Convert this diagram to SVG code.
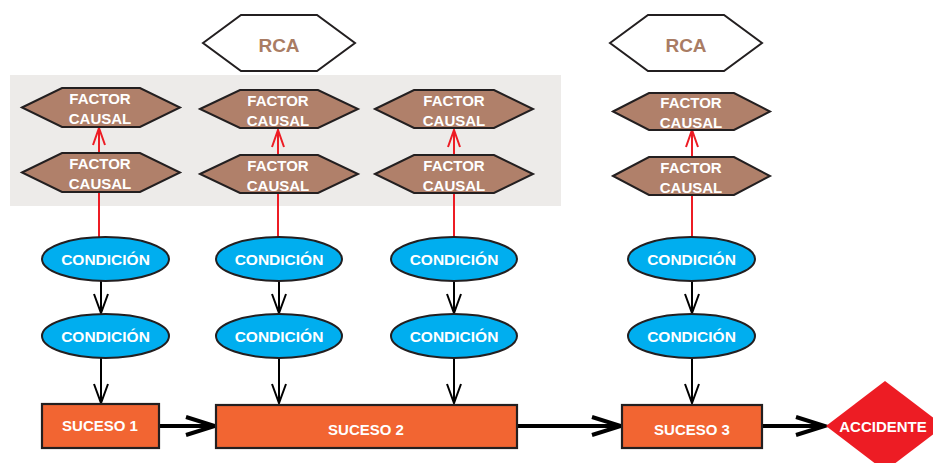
<svg xmlns="http://www.w3.org/2000/svg" width="933" height="463" viewBox="0 0 933 463">
<style>
.hex{fill:#b0806a;stroke:#231f20;stroke-width:2;stroke-linejoin:miter}
.rca{fill:#fff;stroke:#231f20;stroke-width:2}
.ell{fill:#00aeef;stroke:#231f20;stroke-width:2}
.box{fill:#f26532;stroke:#231f20;stroke-width:2.2}
.t{font-family:"Liberation Sans",Arial,sans-serif;font-weight:bold;fill:#fff;text-anchor:middle}
.tf{font-size:15px}
.tc{font-size:15.5px}
.ts{font-size:15px}
.tr{font-size:19px;fill:#a97c64}
.red{stroke:#ed1c24;stroke-width:2;fill:none}
.blk{stroke:#000;stroke-width:2;fill:none}
.thick{stroke:#000;stroke-width:4;fill:none}
</style>
<defs>
<marker id="mRed" markerUnits="userSpaceOnUse" markerWidth="22" markerHeight="16" viewBox="0 0 22 16" refX="19" refY="8" orient="auto">
<path d="M2,2 L19,8 L2,14" fill="none" stroke="#ed1c24" stroke-width="2"/>
</marker>
<marker id="mBlk" markerUnits="userSpaceOnUse" markerWidth="24" markerHeight="18" viewBox="0 0 24 18" refX="21" refY="9" orient="auto">
<path d="M2,2 L21,9 L2,16" fill="none" stroke="#000" stroke-width="2"/>
</marker>
<marker id="mThick" markerUnits="userSpaceOnUse" markerWidth="36" markerHeight="26" viewBox="0 0 36 26" refX="32" refY="13" orient="auto">
<path d="M3,4 L32,13 L3,22" fill="none" stroke="#000" stroke-width="4"/>
</marker>
</defs>

<rect id="panel" x="10" y="75" width="551" height="131" fill="#edebe9"/>

<g id="connectors">
<line class="red" x1="99" y1="237" x2="99" y2="128" marker-end="url(#mRed)"/>
<line class="red" x1="278" y1="237" x2="278" y2="130" marker-end="url(#mRed)"/>
<line class="red" x1="454" y1="237" x2="454" y2="130" marker-end="url(#mRed)"/>
<line class="red" x1="692" y1="237" x2="692" y2="130" marker-end="url(#mRed)"/>
<line class="blk" x1="101" y1="281" x2="101" y2="313" marker-end="url(#mBlk)"/>
<line class="blk" x1="279" y1="281" x2="279" y2="313" marker-end="url(#mBlk)"/>
<line class="blk" x1="454" y1="281" x2="454" y2="313" marker-end="url(#mBlk)"/>
<line class="blk" x1="692" y1="281" x2="692" y2="313" marker-end="url(#mBlk)"/>
<line class="blk" x1="101" y1="358" x2="101" y2="403" marker-end="url(#mBlk)"/>
<line class="blk" x1="279" y1="358" x2="279" y2="403" marker-end="url(#mBlk)"/>
<line class="blk" x1="454" y1="358" x2="454" y2="403" marker-end="url(#mBlk)"/>
<line class="blk" x1="692" y1="358" x2="692" y2="403" marker-end="url(#mBlk)"/>
<line class="thick" x1="159" y1="426" x2="215" y2="426" marker-end="url(#mThick)"/>
<line class="thick" x1="517" y1="426" x2="621" y2="426" marker-end="url(#mThick)"/>
<line class="thick" x1="762" y1="426" x2="825" y2="426" marker-end="url(#mThick)"/>
</g>

<g id="rca1"><polygon class="rca" points="203,43 241,15 317,15 355,43 317,71 241,71"/><text class="t tr" x="279" y="52">RCA</text></g>
<g id="rca2"><polygon class="rca" points="610,43 648,15 724,15 762,43 724,71 648,71"/><text class="t tr" x="686" y="52">RCA</text></g>

<g id="fc1a"><polygon class="hex" points="22,107.5 62,88 140,88 180,107.5 140,127 62,127"/><text class="t tf" x="100" y="104">FACTOR</text><text class="t tf" x="100" y="124">CAUSAL</text></g>
<g id="fc1b"><polygon class="hex" points="22,172.5 62,153 140,153 180,172.5 140,192 62,192"/><text class="t tf" x="100" y="169">FACTOR</text><text class="t tf" x="100" y="189">CAUSAL</text></g>
<g id="fc2a"><polygon class="hex" points="200,109 240,90 318,90 358,109 318,128 240,128"/><text class="t tf" x="278" y="106">FACTOR</text><text class="t tf" x="278" y="126">CAUSAL</text></g>
<g id="fc2b"><polygon class="hex" points="200,174 240,155 318,155 358,174 318,193 240,193"/><text class="t tf" x="278" y="171">FACTOR</text><text class="t tf" x="278" y="191">CAUSAL</text></g>
<g id="fc3a"><polygon class="hex" points="375,109 414,90 494,90 533,109 494,128 414,128"/><text class="t tf" x="454" y="106">FACTOR</text><text class="t tf" x="454" y="126">CAUSAL</text></g>
<g id="fc3b"><polygon class="hex" points="375,174 414,155 494,155 533,174 494,193 414,193"/><text class="t tf" x="454" y="171">FACTOR</text><text class="t tf" x="454" y="191">CAUSAL</text></g>
<g id="fc4a"><polygon class="hex" points="613,111.5 649,93 734,93 770,111.5 734,130 649,130"/><text class="t tf" x="691" y="108">FACTOR</text><text class="t tf" x="691" y="128">CAUSAL</text></g>
<g id="fc4b"><polygon class="hex" points="613,176 649,157 734,157 770,176 734,195 649,195"/><text class="t tf" x="691" y="173">FACTOR</text><text class="t tf" x="691" y="193">CAUSAL</text></g>

<g id="c1a"><ellipse class="ell" cx="105.5" cy="259" rx="63.5" ry="22"/><text class="t tc" x="105.5" y="265">CONDICIÓN</text></g>
<g id="c1b"><ellipse class="ell" cx="105.5" cy="336" rx="63.5" ry="22"/><text class="t tc" x="105.5" y="342">CONDICIÓN</text></g>
<g id="c2a"><ellipse class="ell" cx="279" cy="259" rx="63" ry="22"/><text class="t tc" x="279" y="265">CONDICIÓN</text></g>
<g id="c2b"><ellipse class="ell" cx="279" cy="336" rx="63" ry="22"/><text class="t tc" x="279" y="342">CONDICIÓN</text></g>
<g id="c3a"><ellipse class="ell" cx="454" cy="259" rx="63" ry="22"/><text class="t tc" x="454" y="265">CONDICIÓN</text></g>
<g id="c3b"><ellipse class="ell" cx="454" cy="336" rx="63" ry="22"/><text class="t tc" x="454" y="342">CONDICIÓN</text></g>
<g id="c4a"><ellipse class="ell" cx="691.5" cy="259" rx="63.5" ry="22"/><text class="t tc" x="691.5" y="265">CONDICIÓN</text></g>
<g id="c4b"><ellipse class="ell" cx="691.5" cy="336" rx="63.5" ry="22"/><text class="t tc" x="691.5" y="342">CONDICIÓN</text></g>

<g id="s1"><rect class="box" x="42" y="404" width="117" height="44"/><text class="t ts" x="100" y="431">SUCESO 1</text></g>
<g id="s2"><rect class="box" x="216" y="405" width="301" height="43"/><text class="t ts" x="366" y="435">SUCESO 2</text></g>
<g id="s3"><rect class="box" x="622" y="405" width="140" height="43"/><text class="t ts" x="692" y="435">SUCESO 3</text></g>

<g id="accidente"><polygon points="826,426 885,381 944,426 885,471" fill="#ed1c24"/><text class="t" font-size="15" x="883" y="432">ACCIDENTE</text></g>
</svg>
